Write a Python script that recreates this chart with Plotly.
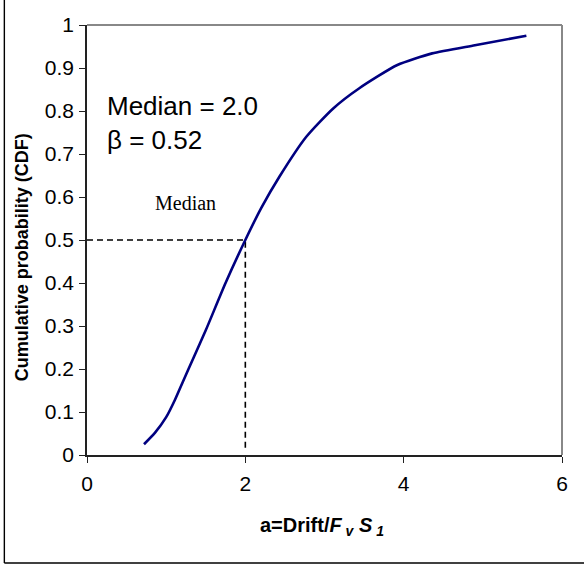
import plotly.graph_objects as go

# Empirical CDF of the normalised drift demand
drift_ratio = [0.72, 0.86, 1.00, 1.11, 1.21, 1.35, 1.50, 1.75, 2.00, 2.20, 2.43, 2.77, 3.11, 3.44, 3.92, 4.36, 4.90, 5.55]
cdf_values = [0.025, 0.052, 0.088, 0.128, 0.170, 0.228, 0.290, 0.400, 0.500, 0.574, 0.647, 0.740, 0.806, 0.853, 0.907, 0.934, 0.953, 0.975]

median_value = 2.0
beta_value = 0.52
median_prob = 0.5

x_ticks = [0, 2, 4, 6]
y_ticks = [0, 0.1, 0.2, 0.3, 0.4, 0.5, 0.6, 0.7, 0.8, 0.9, 1]

fig = go.Figure()

# Dashed guide lines to the median
fig.add_trace(go.Scatter(
    x=[0, median_value, median_value],
    y=[median_prob, median_prob, 0.01],
    mode="lines",
    line=dict(color="black", width=1.6, dash="6px,4px"),
    hoverinfo="skip",
    showlegend=False,
))

fig.add_trace(go.Scatter(
    x=drift_ratio,
    y=cdf_values,
    mode="lines",
    line=dict(color="#000080", width=2.6, shape="spline", smoothing=0.6),
    showlegend=False,
))

axis_font = dict(family="Arial, Liberation Sans, sans-serif", size=21, color="black")

fig.update_layout(
    width=584,
    height=564,
    margin=dict(l=87, r=22, t=25, b=109),
    paper_bgcolor="white",
    plot_bgcolor="white",
    xaxis=dict(
        range=[0, 6],
        tickvals=x_ticks,
        ticktext=[str(v) for v in x_ticks],
        showgrid=False,
        zeroline=False,
        showline=True,
        linecolor="#222222",
        linewidth=1.6,
        ticks="outside",
        ticklen=6,
        tickwidth=1.4,
        tickcolor="#222222",
        tickfont=axis_font,
        ticklabelstandoff=3,
    ),
    yaxis=dict(
        range=[0, 1],
        tickvals=y_ticks,
        ticktext=["0", "0.1", "0.2", "0.3", "0.4", "0.5", "0.6", "0.7", "0.8", "0.9", "1"],
        showgrid=False,
        zeroline=False,
        showline=True,
        linecolor="#222222",
        linewidth=1.6,
        ticks="outside",
        ticklen=6,
        tickwidth=1.4,
        tickcolor="#222222",
        tickfont=axis_font,
        ticklabelstandoff=1,
    ),
    shapes=[
        # top and right frame of the plot area
        dict(type="line", xref="paper", yref="paper", x0=0, x1=1, y0=1, y1=1,
             line=dict(color="#888888", width=2)),
        dict(type="line", xref="paper", yref="paper", x0=1, x1=1, y0=0, y1=1,
             line=dict(color="#888888", width=2)),
        # outer chart border (left and bottom)
        dict(type="line", xref="paper", yref="paper", x0=-0.174, x1=-0.174, y0=-0.251, y1=1.06,
             line=dict(color="black", width=1.4)),
        dict(type="line", xref="paper", yref="paper", x0=-0.174, x1=1.05, y0=-0.251, y1=-0.251,
             line=dict(color="black", width=1.4)),
    ],
    annotations=[
        dict(text=f"Median = {median_value:.1f}", xref="paper", yref="paper",
             x=0.038, y=0.812, xanchor="left", yanchor="middle", showarrow=False,
             font=dict(family="Arial, Liberation Sans, sans-serif", size=26, color="black")),
        dict(text=f"β = {beta_value:.2f}", xref="paper", yref="paper",
             x=0.038, y=0.733, xanchor="left", yanchor="middle", showarrow=False,
             font=dict(family="Arial, Liberation Sans, sans-serif", size=26, color="black")),
        dict(text="Median", xref="paper", yref="paper",
             x=(185 - 87) / 475, y=(455 - 203) / 430, xanchor="center", yanchor="middle",
             showarrow=False,
             font=dict(family="Times New Roman, Liberation Serif, serif", size=20, color="black")),
        dict(text="<b>Cumulative probability (CDF)</b>", xref="paper", yref="paper",
             x=(22 - 87) / 475, y=0.46, xanchor="center", yanchor="middle",
             textangle=-90, showarrow=False,
             font=dict(family="Arial, Liberation Sans, sans-serif", size=18, color="black")),
        dict(text="<b>a=Drift/<i>F</i><sub><i> v</i></sub> <i>S</i><sub><i> 1</i></sub></b>",
             xref="paper", yref="paper",
             x=(322 - 87) / 475, y=(455 - 526) / 430, xanchor="center", yanchor="middle",
             showarrow=False,
             font=dict(family="Arial, Liberation Sans, sans-serif", size=20, color="black")),
    ],
)

fig.write_html("out.html")
